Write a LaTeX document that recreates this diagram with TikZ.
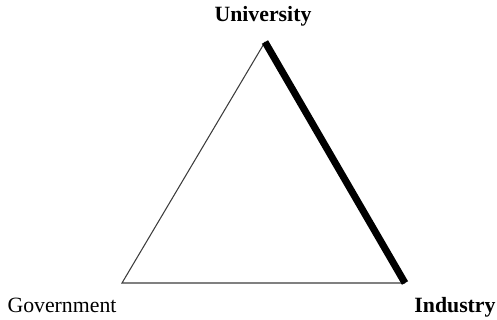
\documentclass[tikz,border=0pt]{standalone}
\usepackage{fontspec}
\setmainfont{Liberation Serif}
\usepackage{xcolor}
\usepackage{tikz}
\usetikzlibrary{positioning,calc}
\definecolor{helix-line}{RGB}{60,60,60}

\begin{document}
\begin{tikzpicture}[x=0.02cm, y=-0.02cm, every node/.style={font=\fontsize{12.4}{14}\selectfont, inner sep=0pt}]
  % canvas
  \useasboundingbox (0,0) rectangle (497,320);

  % vertices
  \coordinate (uni) at (265,42);
  \coordinate (gov) at (122,283);
  \coordinate (ind) at (405,283);

  % labels
  \node[font=\fontsize{12.4}{14}\selectfont\bfseries, anchor=base] (unilabel) at (263,22) {University};
  \node[anchor=base] (govlabel) at (62,313) {Government};
  \node[font=\fontsize{12.4}{14}\selectfont\bfseries, anchor=base] (indlabel) at (455,313) {Industry};

  % sides
  \draw[helix-line, line width=0.6pt] (ind) -- (gov) -- (uni);
  \draw[black, line width=4pt] (uni) -- (ind);
\end{tikzpicture}
\end{document}
